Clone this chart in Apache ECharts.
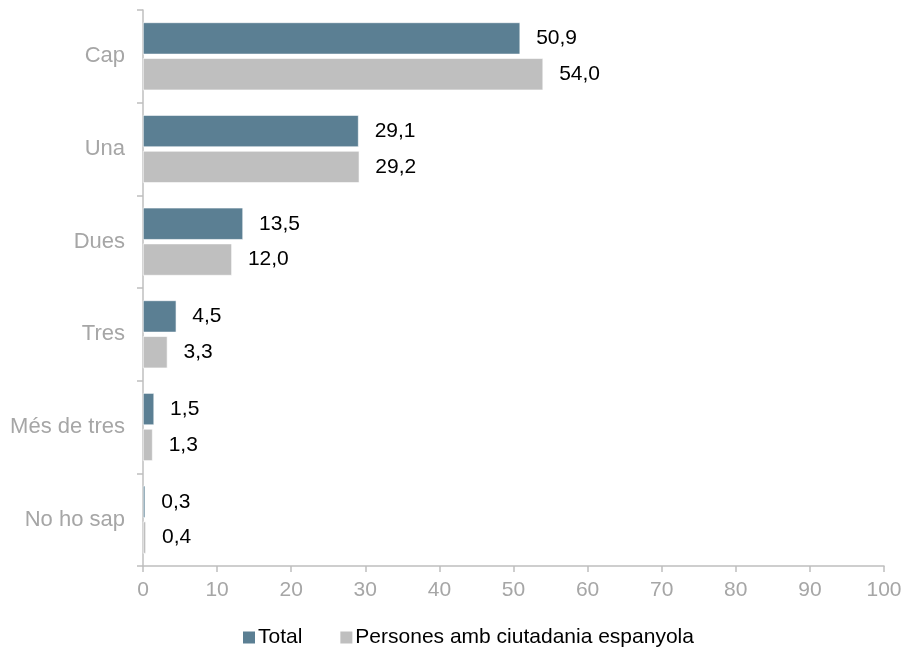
<!DOCTYPE html>
<html><head><meta charset="utf-8">
<script src="https://cdn.jsdelivr.net/npm/echarts@6/dist/echarts.min.js"></script>
<style>html,body{margin:0;padding:0;background:#fff}#c{width:906px;height:653px}</style>
</head><body><div id="c"></div>
<script>
const categories = ['Cap','Una','Dues','Tres','Més de tres','No ho sap'];
const totalValues = [50.9,29.1,13.5,4.5,1.5,0.3];
const espValues = [54.0,29.2,12.0,3.3,1.3,0.4];
const seriesNames = ['Total','Persones amb ciutadania espanyola'];
const xTicks = {min:0,max:100,interval:10};

const chart = echarts.init(document.getElementById('c'));
const fmt = p => p.value.toFixed(1).replace('.', ',');
const FF = 'Liberation Sans, Arial';
const lbl = {show:true,position:'right',distance:16,color:'#000',fontSize:21,fontFamily:FF,formatter:fmt};
chart.setOption({
  animation:false,
  textStyle:{fontFamily:FF},
  grid:{left:143,right:22,top:10,bottom:87,containLabel:false},
  legend:{bottom:0,left:236,itemWidth:14,itemHeight:14,itemGap:36,icon:'rect',
    textStyle:{fontSize:21,color:'#000',fontFamily:FF,padding:[0,0,0,-3]},
    data:seriesNames},
  xAxis:{type:'value',min:xTicks.min,max:xTicks.max,interval:xTicks.interval,
    axisLine:{show:true,lineStyle:{color:'#bfbfbf',width:1.5}},
    axisTick:{show:true,length:6,lineStyle:{color:'#bfbfbf',width:1.5}},
    splitLine:{show:false},
    axisLabel:{color:'#a6a6a6',fontSize:21,margin:14,fontFamily:FF}},
  yAxis:{type:'category',data:categories,inverse:true,
    axisLine:{show:true,lineStyle:{color:'#bfbfbf',width:1.5}},
    axisTick:{show:true,length:6,lineStyle:{color:'#bfbfbf',width:1.5}},
    axisLabel:{color:'#a6a6a6',fontSize:22,margin:18,fontFamily:FF}},
  series:[
    {name:seriesNames[0],type:'bar',data:totalValues,barWidth:32,barGap:'12%',
     itemStyle:{color:'#5b7f93',borderColor:'#fff',borderWidth:0.6},label:lbl},
    {name:seriesNames[1],type:'bar',data:espValues,barWidth:32,
     itemStyle:{color:'#bfbfbf',borderColor:'#fff',borderWidth:0.6},label:lbl}
  ]
});
</script></body></html>
